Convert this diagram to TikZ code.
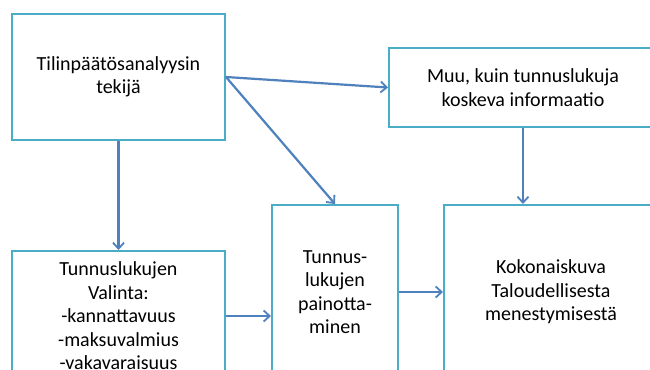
\documentclass[tikz,border=0pt]{standalone}
\usepackage{fontspec}
\setmainfont{Carlito}
\usetikzlibrary{arrows.meta}
\definecolor{boxline}{RGB}{75,172,198}
\definecolor{arrowline}{RGB}{79,129,189}
\begin{document}
\begin{tikzpicture}[x=1bp,y=-1bp,
  box/.style={draw=boxline, line width=2bp, fill=white, align=center,
    anchor=north west, inner sep=0pt,
    font=\fontsize{20bp}{23.5bp}\selectfont},
  conn/.style={draw=arrowline, line width=2.2bp,
    -{Straight Barb[length=6bp,width=11bp,line width=1.8bp]}}]
\useasboundingbox (0,0) rectangle (650,369);
\clip (0,0) rectangle (650,369);
\fill[white] (0,0) rectangle (650,369);

\node[box, minimum width=213bp, minimum height=126bp] (a) at (11,13)
  {Tilinpäätösanalyysin\\tekijä};
\node[box, minimum width=268bp, minimum height=79bp] (b) at (388,47)
  {Muu, kuin tunnuslukuja\\koskeva informaatio};
\node[box, minimum width=213bp, minimum height=130bp] (c) at (11,250)
  {Tunnuslukujen\\Valinta:\\-kannattavuus\\-maksuvalmius\\-vakavaraisuus};
\node[box, minimum width=126bp, minimum height=174bp] (d) at (271,204)
  {Tunnus-\\lukujen\\painotta-\\minen};
\node[box, minimum width=214bp, minimum height=174bp] (e) at (443,204)
  {Kokonaiskuva\\Taloudellisesta\\menestymisestä};

\draw[conn] (a.south) -- (c.north);
\draw[conn] (a.east) -- (b.west);
\draw[conn] (a.east) -- (d.north);
\draw[conn] (b.south) -- (b.south |- e.north);
\draw[conn] (c.east) -- (c.east -| d.west);
\draw[conn] (d.east) -- (e.west);
\end{tikzpicture}
\end{document}
